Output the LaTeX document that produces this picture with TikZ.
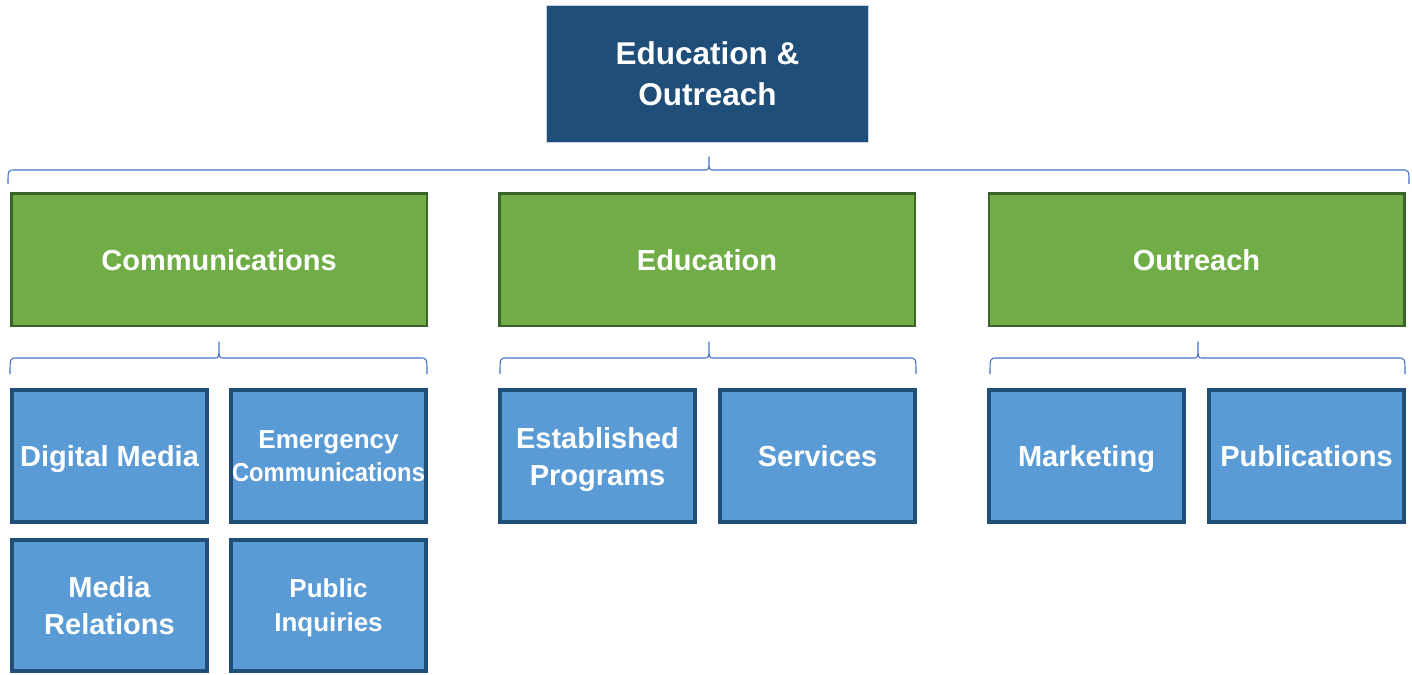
\documentclass[tikz,border=0pt]{standalone}
\usepackage{graphicx}
\usepackage{fontspec}
\setmainfont{Liberation Sans}
\definecolor{topblue}{HTML}{1F4E79}
\definecolor{topedge}{HTML}{C5D3E3}
\definecolor{greenfill}{HTML}{70AD47}
\definecolor{greenedge}{HTML}{3B6428}
\definecolor{bluefill}{HTML}{5B9BD5}
\definecolor{blueedge}{HTML}{1F4E79}
\definecolor{bracecol}{HTML}{4472C4}
\newcommand\mybrace[6]{%
  \draw[bracecol, line width=1.1pt, line join=round]
    (#1,#6) .. controls (#1,#5) .. (#1+7,#5) -- (#3-4,#5)
    .. controls (#3,#5) .. (#3,#4) .. controls (#3,#5) .. (#3+4,#5)
    -- (#2-7,#5) .. controls (#2,#5) .. (#2,#6);}
\begin{document}
\begin{tikzpicture}[x=1pt,y=-1pt,
  every node/.style={text depth=0pt},
  topbox/.style={fill=topblue, draw=topedge, line width=1pt, minimum width=322pt, minimum height=137pt,
    inner sep=0pt, align=center, text=white, font=\fontsize{31.5}{41}\selectfont\bfseries},
  greenbox/.style={fill=greenfill, draw=greenedge, line width=2.5pt, minimum width=415.5pt, minimum height=132.5pt,
    inner sep=0pt, align=center, text=white, font=\fontsize{29}{37}\selectfont\bfseries},
  bluebox/.style={fill=bluefill, draw=blueedge, line width=4pt, minimum width=195pt, minimum height=132pt,
    inner sep=0pt, align=center, text=white, font=\fontsize{29}{37}\selectfont\bfseries}]
\useasboundingbox (0,0) rectangle (1412,674);
\node[topbox] (top) at (707.5,74) {Education \&\\Outreach};
\node[greenbox] (comm) at (219,259.5) {Communications};
\node[greenbox] (edu) at (707,259.5) {Education};
\node[greenbox] (out) at (1196.5,259.5) {Outreach};
\node[bluebox] (dm) at (109.5,456) {Digital Media};
\node[bluebox, font=\fontsize{26}{33}\selectfont\bfseries] (ec) at (328.5,456) {Emergency\\\scalebox{0.915}[1]{Communications}};
\node[bluebox] (ep) at (597.5,456) {Established\\Programs};
\node[bluebox] (sv) at (817.5,456) {Services};
\node[bluebox] (mk) at (1086.5,456) {Marketing};
\node[bluebox] (pb) at (1306.5,456) {Publications};
\node[bluebox, minimum height=131pt] (mr) at (109.5,605.5) {Media\\Relations};
\node[bluebox, minimum height=131pt, font=\fontsize{26}{34}\selectfont\bfseries] (pi) at (328.5,605.5) {Public\\Inquiries};
\mybrace{8}{1409}{709}{157}{170}{184}
\mybrace{10}{427}{219}{342}{358}{374}
\mybrace{500}{916}{709}{342}{358}{374}
\mybrace{990}{1405}{1198}{342}{358}{374}
\end{tikzpicture}
\end{document}
